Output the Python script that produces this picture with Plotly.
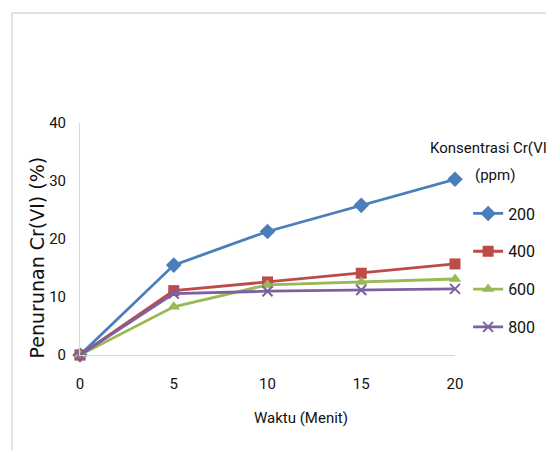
import plotly.graph_objects as go

# Waktu kontak (menit)
waktu = [0, 5, 10, 15, 20]

# Penurunan Cr(VI) (%) untuk tiap konsentrasi awal
konsentrasi = ["200", "400", "600", "800"]
penurunan_200 = [0, 15.5, 21.3, 25.8, 30.3]
penurunan_400 = [0, 11.1, 12.6, 14.1, 15.7]
penurunan_600 = [0, 8.3, 12.1, 12.6, 13.1]
penurunan_800 = [0, 10.6, 11.0, 11.2, 11.4]

y_ticks = [0, 10, 20, 30, 40]
x_ticks = [0, 5, 10, 15, 20]

series = [penurunan_200, penurunan_400, penurunan_600, penurunan_800]
colors = ["#4A7EBB", "#BE4B48", "#98B954", "#7D60A0"]
symbols = ["diamond", "square", "triangle-up", "x-thin"]
sizes = [12, 11, 11, 10]

TICK_FONT = "Roboto, sans-serif"
TXT = "#111111"

fig = go.Figure()
for name, vals, col, sym, sz in zip(konsentrasi, series, colors, symbols, sizes):
    marker = dict(symbol=sym, size=sz, color=col)
    if sym == "x-thin":
        marker["line"] = dict(color=col, width=2)
    fig.add_trace(go.Scatter(
        x=waktu, y=vals, name=name, legendgroup=name,
        mode="lines+markers",
        line=dict(color=col, width=2.8),
        marker=marker,
        cliponaxis=False,
    ))

fig.update_layout(
    width=546, height=450,
    margin=dict(l=80, r=91, t=123, b=95, autoexpand=False),
    paper_bgcolor="white", plot_bgcolor="white",
    showlegend=True,
    legend=dict(
        x=1.035, xanchor="left", y=0.683, yanchor="top",
        font=dict(family=TICK_FONT, size=16, color=TXT),
        tracegroupgap=14, itemwidth=30,
        bgcolor="rgba(0,0,0,0)",
    ),
    xaxis=dict(
        range=[0, 20], tickvals=x_ticks, showgrid=False, zeroline=False,
        showline=True, linecolor="#d9d9d9", linewidth=1,
        ticks="outside", ticklen=15, tickcolor="rgba(0,0,0,0)",
        tickfont=dict(family=TICK_FONT, size=15, color=TXT),
    ),
    yaxis=dict(
        range=[0, 40], tickvals=y_ticks, showgrid=False, zeroline=False,
        showline=True, linecolor="#d9d9d9", linewidth=1,
        ticks="outside", ticklen=10, tickcolor="rgba(0,0,0,0)",
        tickfont=dict(family=TICK_FONT, size=15, color=TXT),
    ),
    shapes=[
        dict(type="rect", xref="paper", yref="paper",
             x0=-0.1813, x1=2.0, y0=-1.0, y1=1.474,
             line=dict(color="#d9d9d9", width=1.5), fillcolor="rgba(0,0,0,0)",
             layer="below"),
    ],
    annotations=[
        dict(text="Waktu (Menit)", xref="paper", yref="paper",
             x=0.588, y=-0.27, xanchor="center", yanchor="middle",
             showarrow=False,
             font=dict(family=TICK_FONT, size=15, color=TXT)),
        dict(text="Penurunan Cr(VI) (%)", xref="paper", yref="paper",
             x=-0.115, y=0.42, xanchor="center", yanchor="middle",
             textangle=-90, showarrow=False,
             font=dict(family="DejaVu Sans", size=19, color=TXT)),
        dict(text="Konsentrasi Cr(VI)", xref="paper", yref="paper",
             x=0.928, y=0.892, xanchor="left", yanchor="middle",
             showarrow=False,
             font=dict(family=TICK_FONT, size=15, color=TXT)),
        dict(text="(ppm)", xref="paper", yref="paper",
             x=1.048, y=0.775, xanchor="left", yanchor="middle",
             showarrow=False,
             font=dict(family=TICK_FONT, size=15, color=TXT)),
    ],
)

fig.write_html("out.html")
